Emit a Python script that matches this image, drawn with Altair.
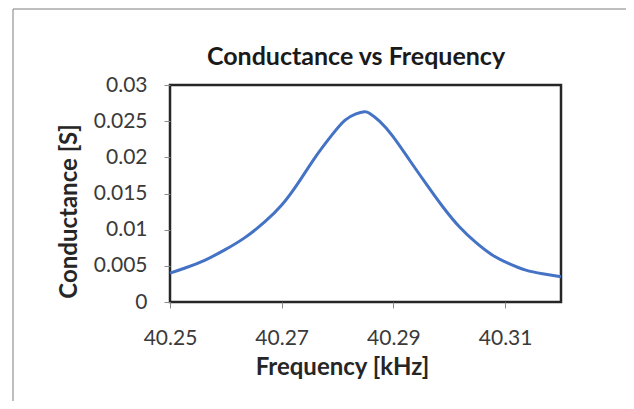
import altair as alt
import pandas as pd

# Data
frequency_khz = [40.25, 40.2527, 40.2563, 40.2598, 40.2634, 40.2670, 40.2700, 40.2729,
                 40.2759, 40.2789, 40.2813, 40.2833, 40.2848, 40.2857, 40.2875, 40.2899,
                 40.2929, 40.2958, 40.2988, 40.3018, 40.3048, 40.3077, 40.3107, 40.3137,
                 40.3167, 40.32]
conductance_s = [0.0040, 0.0047, 0.0058, 0.0072, 0.0089, 0.0111, 0.0134, 0.0164,
                 0.0199, 0.0230, 0.0251, 0.0260, 0.0263, 0.0261, 0.0250, 0.0229,
                 0.0196, 0.0164, 0.0132, 0.0104, 0.0082, 0.0065, 0.0053, 0.0044,
                 0.0039, 0.0035]
x_ticks = [40.25, 40.27, 40.29, 40.31]
y_ticks = [0, 0.005, 0.01, 0.015, 0.02, 0.025, 0.03]
chart_title = "Conductance vs Frequency"

df = pd.DataFrame({"f": frequency_khz, "g": conductance_s})
title_df = pd.DataFrame({"t": [chart_title]})

FONT = "Lato"

line = alt.Chart(df).mark_line(color="#4472C4", strokeWidth=3, interpolate="natural").encode(
    x=alt.X("f:Q",
            scale=alt.Scale(domain=[40.25, 40.32], nice=False, zero=False),
            axis=alt.Axis(values=x_ticks, format=".2f", title="Frequency [kHz]",
                          grid=False, domain=False, tickColor="#8c8c8c", tickSize=6,
                          labelFont=FONT, labelFontSize=21, labelColor="#3a3a3a",
                          labelPadding=19, labelFlush=False,
                          titleFont=FONT, titleFontSize=24, titleFontWeight="bold",
                          titleColor="#262626", titleX=172, titleY=65,
                          titleBaseline="middle", titleAlign="center")),
    y=alt.Y("g:Q",
            scale=alt.Scale(domain=[0, 0.03], nice=False),
            axis=alt.Axis(values=y_ticks, title="Conductance [S]",
                          labelExpr="datum.value == 0 ? '0' : format(datum.value, '.3~f')",
                          grid=False, domain=False, tickColor="#8c8c8c", tickSize=6,
                          labelFont=FONT, labelFontSize=21, labelColor="#3a3a3a",
                          labelPadding=17,
                          titleFont=FONT, titleFontSize=24, titleFontWeight="bold",
                          titleColor="#262626", titleX=-101, titleY=126,
                          titleBaseline="middle", titleAlign="center", titleAngle=-90)),
)

title = alt.Chart(title_df).mark_text(font=FONT, fontSize=25, fontWeight="bold",
                                      color="#1a1a1a", align="center",
                                      baseline="alphabetic").encode(
    text="t:N", x=alt.value(186), y=alt.value(-20))

# outer chart-area frame (left and top edges visible in the reference)
frame_left = alt.Chart(title_df).mark_rule(color="#7f7f7f", strokeWidth=1).encode(
    x=alt.value(-157), y=alt.value(-76), y2=alt.value(330))
frame_top = alt.Chart(title_df).mark_rule(color="#7f7f7f", strokeWidth=1).encode(
    x=alt.value(-157), x2=alt.value(470), y=alt.value(-76))

chart = alt.layer(frame_left, frame_top, title, line).properties(
    width=391, height=217,
    autosize=alt.AutoSizeParams(type="none"),
    padding={"left": 162, "top": 77, "right": 65, "bottom": 99},
    background="white",
).configure_view(stroke="#262626", strokeWidth=2.5)

chart.save("out.html", embed_options={"renderer": "svg", "actions": False})
